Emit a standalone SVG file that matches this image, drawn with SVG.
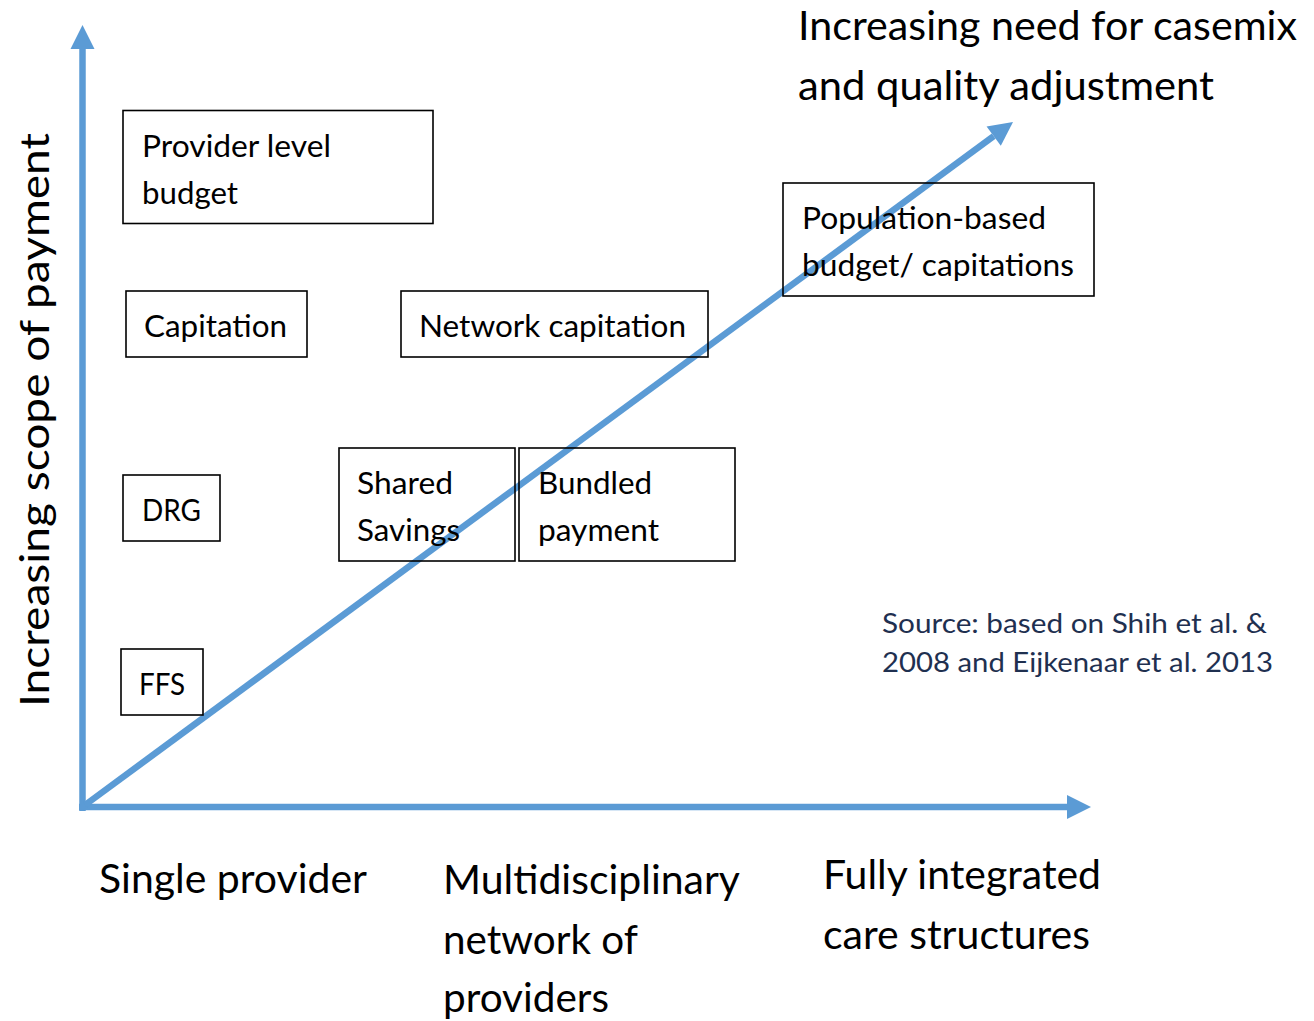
<svg xmlns="http://www.w3.org/2000/svg" width="1314" height="1021" viewBox="0 0 1314 1021">
  <style>
    .box { fill: none; stroke: #000; stroke-width: 1.6; }
    .t { font-family: Lato, "Open Sans", sans-serif; fill: #000; }
    .lbl { font-size: 31px; }
    .axis-lbl { font-size: 41px; }
    .src { font-family: Lato, "Open Sans", sans-serif; font-size: 27px; fill: #1F3050; }
    .ax { stroke: #5B9BD5; stroke-width: 6.5; fill: none; }
  </style>
  <defs>
    <marker id="head" markerUnits="userSpaceOnUse" markerWidth="26" markerHeight="24" refX="0" refY="12" orient="auto" overflow="visible">
      <path d="M0,0 L24,12 L0,24 Z" fill="#5B9BD5"/>
    </marker>
  </defs>

  <rect width="1314" height="1021" fill="#fff"/>

  <!-- axes and diagonal trend arrow -->
  <g id="connectors">
    <line class="ax" x1="82.5" y1="811" x2="82.5" y2="49" marker-end="url(#head)"/>
    <line class="ax" x1="79" y1="807" x2="1067" y2="807" marker-end="url(#head)"/>
    <line class="ax" x1="85" y1="805" x2="993.7" y2="136.2" marker-end="url(#head)"/>
  </g>

  <g id="provider-budget">
    <rect class="box" x="123" y="110.5" width="310" height="113"/>
    <text class="t lbl" x="142" y="157" textLength="189" lengthAdjust="spacingAndGlyphs">Provider level</text>
    <text class="t lbl" x="142" y="204" textLength="96" lengthAdjust="spacingAndGlyphs">budget</text>
  </g>

  <g id="capitation">
    <rect class="box" x="126" y="291" width="181" height="66"/>
    <text class="t lbl" x="144" y="337" textLength="143" lengthAdjust="spacingAndGlyphs">Capitation</text>
  </g>

  <g id="network-capitation">
    <rect class="box" x="401" y="291" width="307" height="66"/>
    <text class="t lbl" x="419" y="337" textLength="267" lengthAdjust="spacingAndGlyphs">Network capitation</text>
  </g>

  <g id="population-budget">
    <rect class="box" x="783" y="183" width="311" height="113"/>
    <text class="t lbl" x="802" y="229" textLength="244" lengthAdjust="spacingAndGlyphs">Population-based</text>
    <text class="t lbl" x="802" y="276" textLength="272" lengthAdjust="spacingAndGlyphs">budget/ capitations</text>
  </g>

  <g id="drg">
    <rect class="box" x="123" y="475" width="97" height="66"/>
    <text class="t lbl" x="142" y="521" textLength="59" lengthAdjust="spacingAndGlyphs">DRG</text>
  </g>

  <g id="shared-savings">
    <rect class="box" x="339" y="448" width="176" height="113"/>
    <text class="t lbl" x="357" y="494" textLength="96" lengthAdjust="spacingAndGlyphs">Shared</text>
    <text class="t lbl" x="357" y="541" textLength="103" lengthAdjust="spacingAndGlyphs">Savings</text>
  </g>

  <g id="bundled-payment">
    <rect class="box" x="519" y="448" width="216" height="113"/>
    <text class="t lbl" x="538" y="494" textLength="114" lengthAdjust="spacingAndGlyphs">Bundled</text>
    <text class="t lbl" x="538" y="541" textLength="121" lengthAdjust="spacingAndGlyphs">payment</text>
  </g>

  <g id="ffs">
    <rect class="box" x="121" y="649" width="82" height="66"/>
    <text class="t lbl" x="139" y="695" textLength="46" lengthAdjust="spacingAndGlyphs">FFS</text>
  </g>

  <!-- axis titles -->
  <g id="y-axis-title">
    <text class="t axis-lbl" transform="translate(49,707) rotate(-90)" x="0" y="0" textLength="574" lengthAdjust="spacingAndGlyphs">Increasing scope of payment</text>
  </g>

  <g id="diagonal-title">
    <text class="t axis-lbl" x="798" y="40" textLength="499" lengthAdjust="spacingAndGlyphs">Increasing need for casemix</text>
    <text class="t axis-lbl" x="798" y="100" textLength="416" lengthAdjust="spacingAndGlyphs">and quality adjustment</text>
  </g>

  <g id="x-single">
    <text class="t axis-lbl" x="99" y="893" textLength="268" lengthAdjust="spacingAndGlyphs">Single provider</text>
  </g>

  <g id="x-network">
    <text class="t axis-lbl" x="443" y="894" textLength="297" lengthAdjust="spacingAndGlyphs">Multidisciplinary</text>
    <text class="t axis-lbl" x="443" y="954" textLength="195" lengthAdjust="spacingAndGlyphs">network of</text>
    <text class="t axis-lbl" x="443" y="1012" textLength="166" lengthAdjust="spacingAndGlyphs">providers</text>
  </g>

  <g id="x-integrated">
    <text class="t axis-lbl" x="823" y="889" textLength="278" lengthAdjust="spacingAndGlyphs">Fully integrated</text>
    <text class="t axis-lbl" x="823" y="949" textLength="267" lengthAdjust="spacingAndGlyphs">care structures</text>
  </g>

  <g id="source-note">
    <text class="src" x="882" y="633" textLength="385" lengthAdjust="spacingAndGlyphs">Source: based on Shih et al. &amp;</text>
    <text class="src" x="882" y="672" textLength="391" lengthAdjust="spacingAndGlyphs">2008 and Eijkenaar et al. 2013</text>
  </g>
</svg>
